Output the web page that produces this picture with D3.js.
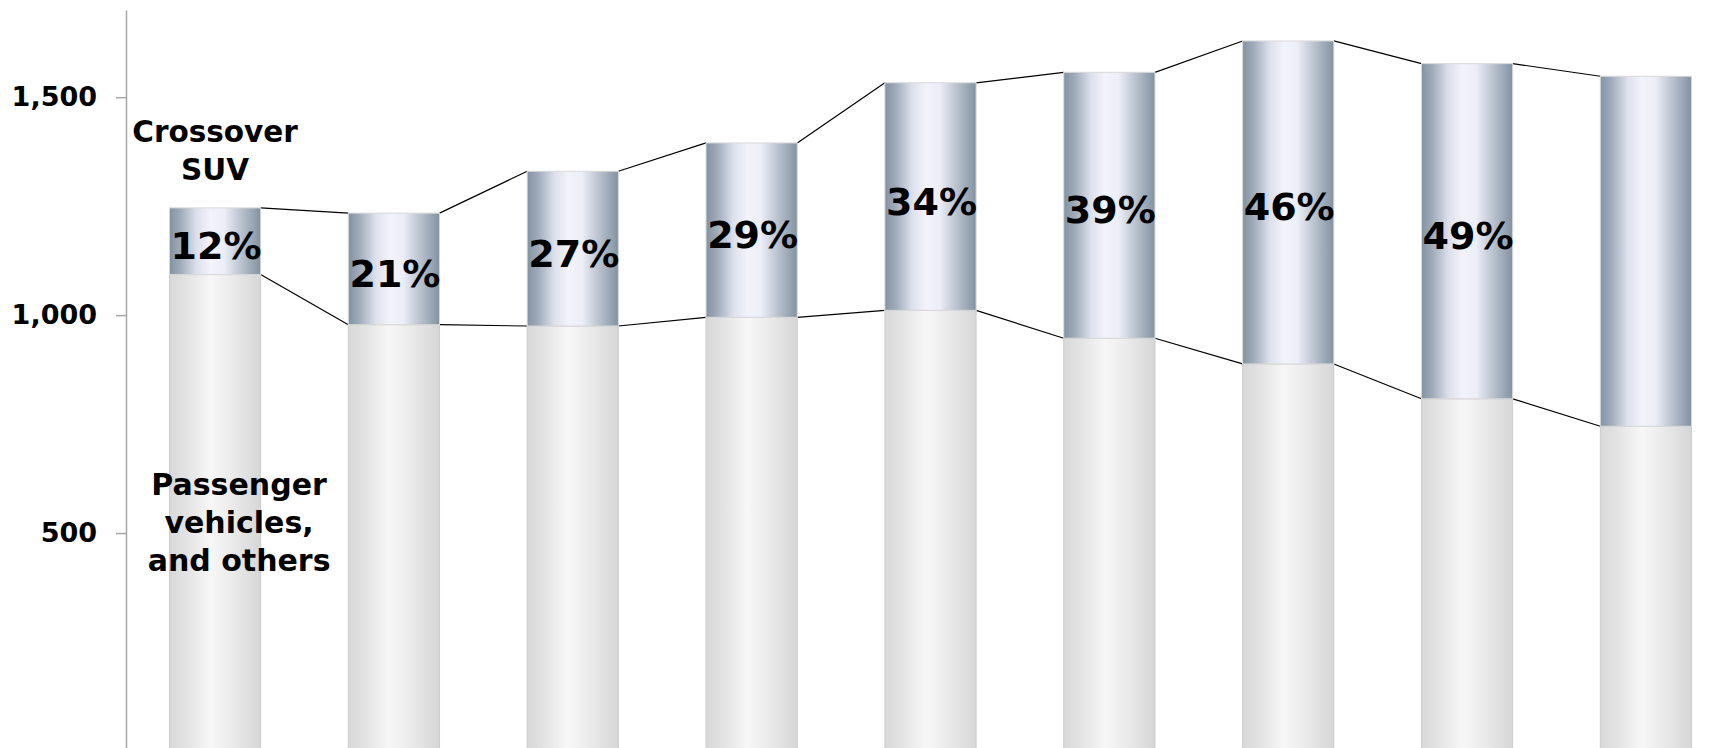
<!DOCTYPE html>
<html>
<head>
<meta charset="utf-8">
<script src="https://cdn.jsdelivr.net/npm/d3@7"></script>
<style>
  html, body { margin: 0; padding: 0; background: #fff; }
  svg { display: block; font-family: "DejaVu Sans", Verdana, sans-serif; font-weight: bold; }
</style>
</head>
<body>
<svg width="1720" height="748"></svg>
<script>
// data (thousand units)
var categories = ['1', '2', '3', '4', '5', '6', '7', '8', '9'];
var passenger = [1093, 978, 975, 995, 1011, 947, 888, 808, 745];
var suv = [153, 256, 355, 400, 522, 610, 741, 769, 803];
var shareLabels = ['12%', '21%', '27%', '29%', '34%', '39%', '46%', '49%', ''];
var yTicks = [500, 1000, 1500];

var svg = d3.select('svg');
var axisX = 126;

var x = d3.scaleBand()
	.domain(categories)
	.range([axisX, 1735])
	.paddingInner(0.49)
	.paddingOuter(0.243);

var y = d3.scaleLinear()
	.domain([0, 1700])
	.range([751, 10]);

var bw = x.bandwidth();
var totals = passenger.map(function (d, i) { return d + suv[i]; });

// gradients
var defs = svg.append('defs');
function gradient(id, stops) {
	var gr = defs.append('linearGradient').attr('id', id)
		.attr('x1', 0).attr('x2', 1).attr('y1', 0).attr('y2', 0);
	stops.forEach(function (s) {
		gr.append('stop').attr('offset', s[0]).attr('stop-color', s[1]);
	});
}
gradient('gPass', [[0, '#d8d8d8'], [0.2, '#e4e4e4'], [0.45, '#f7f7f7'], [0.7, '#eaeaea'], [1, '#d6d6d6']]);
gradient('gSuv', [[0, '#8292a2'], [0.12, '#a0abba'], [0.3, '#dde1ec'], [0.45, '#f2f3fb'], [0.6, '#eceef8'], [0.8, '#b6bfcb'], [1, '#8292a2']]);

// y axis
var yAxis = d3.axisLeft(y)
	.tickValues(yTicks)
	.tickFormat(d3.format(','))
	.tickSize(10)
	.tickSizeOuter(0)
	.tickPadding(19);

var ax = svg.append('g')
	.attr('transform', `translate(${axisX},0)`)
	.call(yAxis);
ax.select('.domain').attr('stroke', '#a6a6a6').attr('stroke-width', 1.5);
ax.selectAll('.tick line').attr('stroke', '#a6a6a6').attr('stroke-width', 1.5);
ax.selectAll('.tick text')
	.attr('fill', '#000')
	.style('font-size', '27px')
	.style('font-weight', 'bold')
	.style('font-family', '"DejaVu Sans", Verdana, sans-serif');

// connector lines between bars
var links = svg.append('g').attr('stroke', '#000').attr('stroke-width', 1.2);
[passenger, totals].forEach(function (series) {
	for (var i = 0; i < categories.length - 1; i++) {
		links.append('line')
			.attr('x1', x(categories[i]) + bw)
			.attr('y1', y(series[i]))
			.attr('x2', x(categories[i + 1]))
			.attr('y2', y(series[i + 1]));
	}
});

// bars
var bars = svg.append('g');
bars.selectAll('.pass')
	.data(categories)
	.join('rect')
	.attr('class', 'pass')
	.attr('x', function (d) { return x(d); })
	.attr('width', bw)
	.attr('y', function (d, i) { return y(passenger[i]); })
	.attr('height', function (d, i) { return y(0) - y(passenger[i]); })
	.attr('fill', 'url(#gPass)')
	.attr('stroke', '#cccccc')
	.attr('stroke-width', 1);

bars.selectAll('.suv')
	.data(categories)
	.join('rect')
	.attr('class', 'suv')
	.attr('x', function (d) { return x(d); })
	.attr('width', bw)
	.attr('y', function (d, i) { return y(totals[i]); })
	.attr('height', function (d, i) { return y(passenger[i]) - y(totals[i]); })
	.attr('fill', 'url(#gSuv)')
	.attr('stroke', '#d9d9d9')
	.attr('stroke-width', 1);

// share labels
svg.append('g').selectAll('text')
	.data(categories)
	.join('text')
	.attr('x', function (d) { return x(d) + bw / 2 + 1; })
	.attr('y', function (d, i) { return (y(totals[i]) + y(passenger[i])) / 2 + 5; })
	.attr('text-anchor', 'middle')
	.attr('dominant-baseline', 'central')
	.style('font-size', '38px')
	.text(function (d, i) { return shareLabels[i]; });

// series names next to the first bar
var cx = x(categories[0]) + bw / 2;
var suvName = svg.append('text')
	.attr('text-anchor', 'middle')
	.style('font-size', '29.5px');
['Crossover', 'SUV'].forEach(function (t, k) {
	suvName.append('tspan')
		.attr('x', cx)
		.attr('y', y(totals[0]) - 66 + k * 38)
		.text(t);
});

var passName = svg.append('text')
	.attr('text-anchor', 'middle')
	.style('font-size', '30px');
['Passenger', 'vehicles,', 'and others'].forEach(function (t, k) {
	passName.append('tspan')
		.attr('x', cx + 24)
		.attr('y', y(500) - 38 + k * 38)
		.text(t);
});
</script>
</body>
</html>
